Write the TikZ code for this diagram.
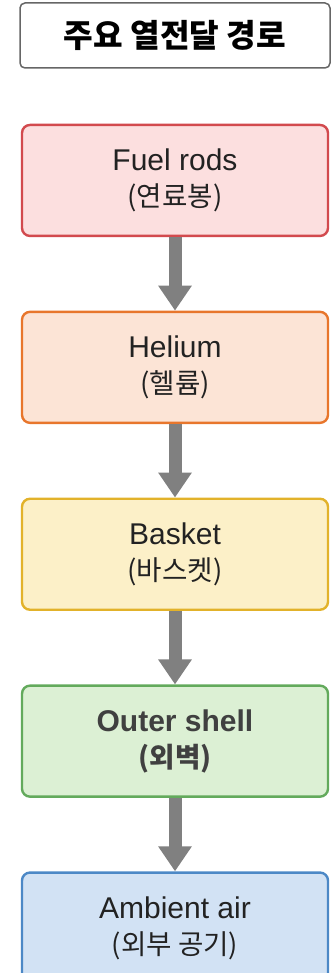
\documentclass[tikz,border=0pt]{standalone}
\usepackage{fontspec}
\setmainfont{Liberation Sans}
\newfontfamily\krfont[Scale=0.92]{Noto Sans CJK KR}
\usetikzlibrary{positioning,arrows.meta}

\definecolor{fuelfill}{HTML}{FCDFDF}
\definecolor{fueldraw}{HTML}{D24A4E}
\definecolor{hefill}{HTML}{FCE4D6}
\definecolor{hedraw}{HTML}{E8762C}
\definecolor{basketfill}{HTML}{FCF0C8}
\definecolor{basketdraw}{HTML}{E2B22A}
\definecolor{shellfill}{HTML}{DCF0D4}
\definecolor{shelldraw}{HTML}{63AA5C}
\definecolor{airfill}{HTML}{D2E2F4}
\definecolor{airdraw}{HTML}{4C88C6}
\definecolor{flowgray}{HTML}{808080}
\definecolor{textdark}{HTML}{222222}

\newcommand{\kr}[1]{{\krfont #1}}

\begin{document}
\begin{tikzpicture}[
    x=1pt, y=1pt,
    layer/.style={draw, line width=2.4pt, rounded corners=8pt, minimum width=306pt, minimum height=111pt, align=center, text=textdark, font=\fontsize{30}{36}\selectfont},
    titlebox/.style={draw=gray!80!black, line width=1.5pt, rounded corners=5pt, fill=white, minimum width=310pt, minimum height=65pt, font=\fontsize{35}{40}\selectfont\bfseries},
    flow/.style={draw=flowgray, line width=13pt, -{Triangle[length=25pt, width=32pt]}},
]
\useasboundingbox (0,0) rectangle (334,-973);

\node[titlebox] (title) at (175,-35.5) {\kr{\bfseries 주요 열전달 경로}};

\node[layer, draw=fueldraw, fill=fuelfill, below=55pt of title] (fuel) {Fuel rods\\\kr{(연료봉)}};
\node[layer, draw=hedraw, fill=hefill, below=73.5pt of fuel] (helium) {Helium\\\kr{(헬륨)}};
\node[layer, draw=basketdraw, fill=basketfill, below=73.5pt of helium] (basket) {Basket\\\kr{(바스켓)}};
\node[layer, draw=shelldraw, fill=shellfill, below=73.5pt of basket, text=black!75, font=\fontsize{30}{36}\selectfont\bfseries] (shell) {Outer shell\\\kr{\bfseries (외벽)}};
\node[layer, draw=airdraw, fill=airfill, below=73.5pt of shell] (air) {Ambient air\\\kr{(외부 공기)}};

\draw[flow] (fuel) -- (helium);
\draw[flow] (helium) -- (basket);
\draw[flow] (basket) -- (shell);
\draw[flow] (shell) -- (air);
\end{tikzpicture}
\end{document}
